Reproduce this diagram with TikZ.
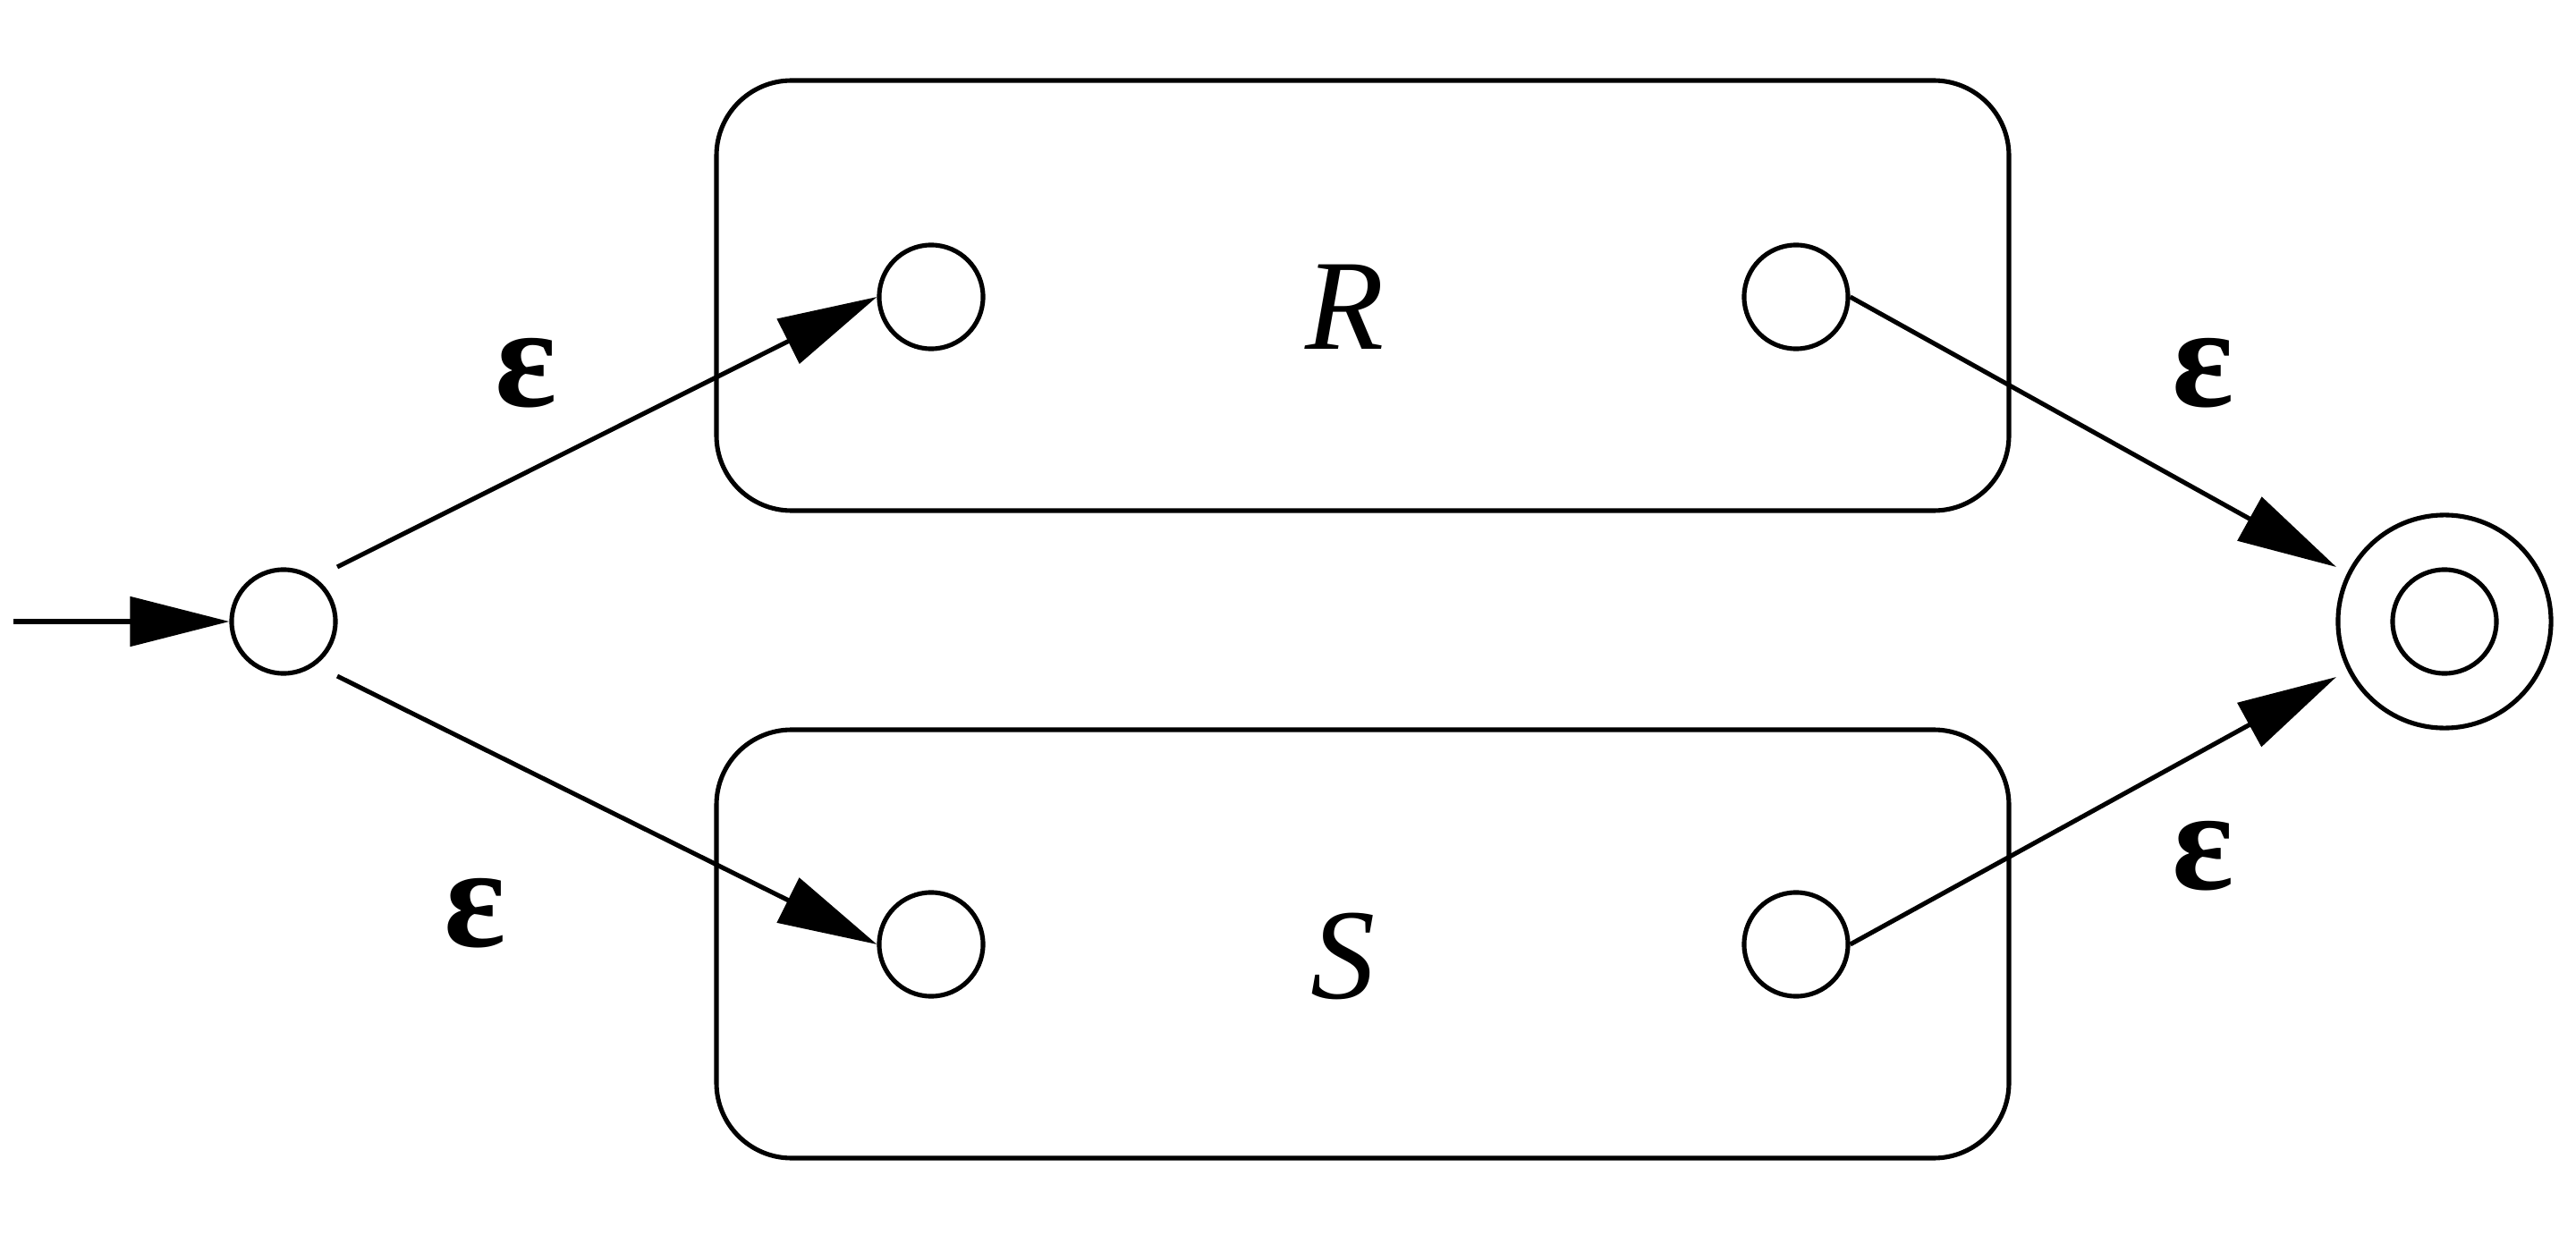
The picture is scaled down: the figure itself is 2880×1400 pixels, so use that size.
\documentclass[tikz,border=0pt]{standalone}
\usepackage{fontspec}
\newfontfamily\tnr{Liberation Serif}
\usetikzlibrary{arrows.meta,calc}
\begin{document}
\begin{tikzpicture}[x=0.01cm,y=-0.01cm, line width=1.45pt,
  state/.style={circle,draw,minimum size=1.16cm,inner sep=0pt},
  box/.style={draw,rounded corners=0.84cm},
  tr/.style={-{Triangle[length=1.11cm,width=0.55cm]}},
  eps/.style={font=\fontsize{46}{52}\selectfont\tnr\bfseries,inner sep=0pt},
  lab/.style={font=\fontsize{41}{48}\selectfont\tnr\itshape,inner sep=0pt}]
\useasboundingbox (0,0) rectangle (2880,1400);
\draw[box] (801,90) rectangle (2246,571);
\draw[box] (801,816) rectangle (2246,1295);
\node[state] (q0) at (317,695) {};
\node[state] (r1) at (1041,332) {};
\node[state] (r2) at (2008,332) {};
\node[state] (s1) at (1041,1056) {};
\node[state] (s2) at (2008,1056) {};
\node[state,minimum size=2.38cm] (f) at (2733,695) {};
\node[state] (fi) at (2733,695) {};
\node[lab] (R) at (1504,343) {R};
\node[lab] (S) at (1502,1069) {S};
\node[eps] (e1) at (588,417) {ε};
\node[eps] (e2) at (531,1021) {ε};
\node[eps] (e3) at (2463,417) {ε};
\node[eps] (e4) at (2463,957) {ε};
\coordinate (in) at (15,695);
\coordinate (a1) at (377,634);
\coordinate (a2) at (377,756);
\coordinate (f1) at (2612,634);
\coordinate (f2) at (2612,757);
\draw[tr] (in) -- (q0.west);
\draw[tr] (a1) -- (r1.west);
\draw[tr] (a2) -- (s1.west);
\draw[tr] (r2.east) -- (f1);
\draw[tr] (s2.east) -- (f2);
\end{tikzpicture}
\end{document}
